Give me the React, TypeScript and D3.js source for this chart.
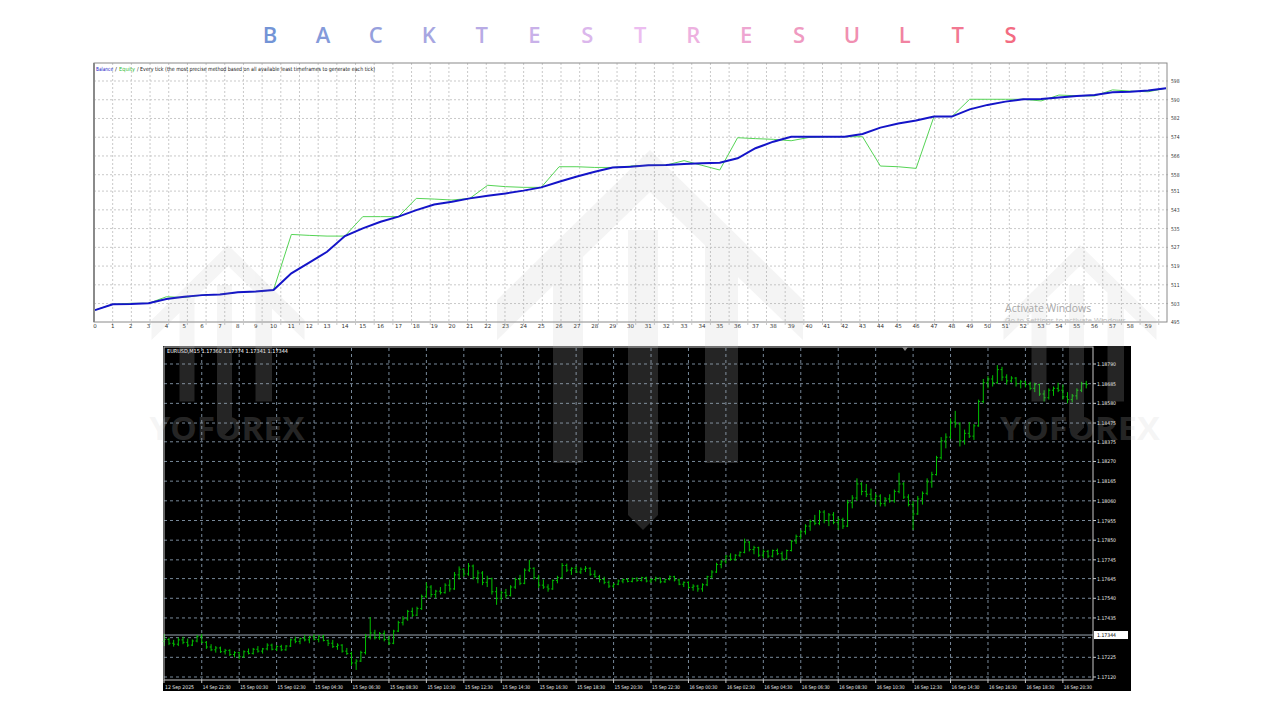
import React from 'react';
import * as d3 from 'd3';

const titleLetters = ['B', 'A', 'C', 'K', 'T', 'E', 'S', 'T', 'R', 'E', 'S', 'U', 'L', 'T', 'S'];

// Balance / equity per trade (0..60)
const balance = [500.2, 502.7, 502.8, 503.1, 504.9, 505.9, 506.6, 506.9, 507.8, 508.1, 508.8, 515.9, 520.5, 525.1, 531.8, 535.1, 537.9, 540.1, 542.9, 545.3, 546.5, 547.9, 549.0, 550.0, 551.2, 552.6, 555.0, 557.2, 559.3, 561.1, 561.4, 562.0, 562.1, 562.6, 562.9, 563.1, 565.0, 569.3, 572.1, 574.2, 574.2, 574.2, 574.2, 575.4, 578.1, 579.9, 581.1, 582.8, 582.8, 585.9, 587.8, 589.2, 590.2, 590.3, 591.0, 591.6, 592.0, 593.2, 593.4, 593.9, 594.9];
const equity = [500.2, 502.7, 503.1, 503.1, 505.9, 505.6, 506.6, 506.9, 507.8, 508.1, 508.8, 532.5, 532.1, 531.8, 531.8, 540.1, 540.1, 540.1, 547.9, 547.6, 547.2, 547.9, 553.5, 552.9, 552.6, 552.6, 561.4, 561.4, 561.1, 561.1, 561.7, 562.0, 562.1, 564.0, 562.0, 560.0, 573.8, 573.4, 573.1, 572.5, 573.9, 574.2, 574.2, 574.2, 561.7, 561.4, 560.7, 582.8, 582.8, 590.2, 590.2, 590.2, 590.2, 589.5, 592.0, 591.7, 591.6, 594.2, 593.7, 593.4, 594.9];
const balanceTicks = [495, 503, 511, 519, 527, 535, 543, 551, 558, 566, 574, 582, 590, 598];
const tradeTickCount = 60;

// EURUSD M15 bars: [open, high, low, close] in 0.00001 above 1.17000
const eurusdBars: number[][] = [
  [310, 350, 285, 320], [320, 330, 290, 300], [300, 318, 282, 295], [295, 330, 285, 318], [318, 335, 295, 305],
  [305, 325, 280, 290], [290, 320, 285, 312], [312, 345, 305, 335], [335, 350, 300, 305], [305, 312, 270, 280],
  [280, 295, 258, 265], [265, 285, 250, 275], [275, 282, 248, 255], [255, 270, 240, 262], [262, 268, 232, 240],
  [240, 258, 225, 250], [250, 255, 215, 228], [228, 262, 222, 255], [255, 272, 240, 246], [246, 275, 240, 268],
  [268, 285, 250, 258], [258, 275, 245, 270], [270, 300, 262, 290], [290, 298, 262, 268], [268, 290, 258, 282],
  [282, 292, 258, 265], [265, 290, 260, 285], [285, 325, 280, 318], [318, 335, 300, 310], [310, 330, 295, 325],
  [325, 345, 310, 318], [318, 340, 300, 335], [335, 348, 315, 320], [320, 342, 305, 338], [338, 345, 310, 315],
  [315, 320, 285, 300], [300, 318, 275, 282], [282, 300, 265, 290], [290, 295, 250, 258], [258, 275, 238, 245],
  [245, 255, 180, 195], [195, 215, 158, 205], [205, 260, 200, 250], [250, 350, 240, 335], [335, 440, 320, 355],
  [355, 372, 320, 330], [330, 360, 318, 352], [352, 368, 310, 320], [320, 340, 290, 300], [300, 372, 295, 365],
  [365, 420, 360, 410], [410, 445, 395, 430], [430, 478, 420, 470], [470, 490, 440, 450], [450, 495, 445, 485],
  [485, 560, 478, 550], [550, 625, 540, 600], [600, 610, 545, 560], [560, 585, 540, 578], [578, 600, 560, 570],
  [570, 620, 565, 610], [610, 640, 575, 590], [590, 680, 585, 665], [665, 710, 640, 695], [695, 700, 655, 670],
  [670, 728, 660, 712], [712, 720, 640, 650], [650, 690, 620, 675], [675, 685, 610, 625], [625, 660, 600, 645],
  [645, 650, 560, 575], [575, 600, 505, 540], [540, 580, 530, 570], [570, 590, 540, 555], [555, 610, 550, 600],
  [600, 650, 590, 640], [640, 665, 610, 620], [620, 700, 615, 690], [690, 745, 680, 700], [700, 705, 640, 650],
  [650, 665, 595, 610], [610, 640, 590, 600], [600, 615, 575, 590], [590, 640, 585, 635], [635, 660, 620, 650],
  [650, 728, 645, 715], [715, 725, 680, 690], [690, 705, 665, 700], [700, 712, 675, 680], [680, 705, 670, 695],
  [695, 712, 680, 700], [700, 705, 660, 668], [668, 690, 650, 655], [655, 665, 625, 640], [640, 655, 615, 625],
  [625, 635, 595, 605], [605, 620, 595, 615], [615, 640, 610, 632], [632, 645, 620, 640], [640, 648, 625, 630],
  [630, 650, 625, 645], [645, 652, 628, 635], [635, 655, 630, 650], [650, 655, 625, 632], [632, 648, 620, 640],
  [640, 655, 630, 648], [648, 650, 620, 628], [628, 645, 622, 640], [640, 662, 635, 655], [655, 660, 630, 638],
  [638, 645, 610, 615], [615, 630, 600, 625], [625, 630, 590, 598], [598, 615, 580, 605], [605, 612, 575, 590],
  [590, 620, 575, 612], [612, 660, 605, 655], [655, 690, 645, 680], [680, 730, 675, 720], [720, 745, 700, 735],
  [735, 770, 725, 765], [765, 780, 740, 748], [748, 775, 740, 770], [770, 790, 760, 785], [785, 858, 780, 840],
  [840, 845, 790, 800], [800, 820, 775, 810], [810, 815, 760, 770], [770, 800, 755, 790], [790, 798, 755, 765],
  [765, 800, 758, 795], [795, 805, 770, 778], [778, 790, 740, 750], [750, 800, 745, 795], [795, 850, 790, 845],
  [845, 880, 830, 870], [870, 905, 855, 895], [895, 935, 880, 925], [925, 960, 900, 950], [950, 985, 930, 940],
  [940, 1011, 930, 1000], [1000, 1010, 940, 955], [955, 995, 925, 985], [985, 1000, 935, 945], [945, 975, 905, 960],
  [960, 970, 910, 925], [925, 1065, 920, 1050], [1050, 1090, 1020, 1075], [1075, 1180, 1060, 1150], [1150, 1160, 1090, 1110],
  [1110, 1150, 1080, 1095], [1095, 1125, 1060, 1070], [1070, 1100, 1040, 1085], [1085, 1095, 1030, 1045], [1045, 1080, 1030, 1070],
  [1070, 1095, 1050, 1060], [1060, 1120, 1050, 1110], [1110, 1210, 1100, 1150], [1150, 1160, 1070, 1080], [1080, 1095, 1030, 1040],
  [1040, 1060, 905, 990], [990, 1085, 985, 1070], [1070, 1110, 1040, 1100], [1100, 1180, 1090, 1160], [1160, 1215, 1130, 1200],
  [1200, 1300, 1195, 1290], [1290, 1400, 1280, 1380], [1380, 1420, 1340, 1400], [1400, 1500, 1390, 1480], [1480, 1540, 1450, 1470],
  [1470, 1480, 1350, 1380], [1380, 1440, 1360, 1420], [1420, 1480, 1395, 1405], [1405, 1470, 1385, 1460], [1460, 1600, 1455, 1590],
  [1590, 1710, 1580, 1690], [1690, 1725, 1660, 1710], [1710, 1730, 1670, 1690], [1690, 1784, 1685, 1760], [1760, 1775, 1700, 1720],
  [1720, 1735, 1680, 1700], [1700, 1725, 1690, 1715], [1715, 1720, 1670, 1685], [1685, 1705, 1660, 1695], [1695, 1700, 1665, 1680],
  [1680, 1695, 1650, 1660], [1660, 1690, 1640, 1680], [1680, 1685, 1620, 1630], [1630, 1650, 1590, 1610], [1610, 1660, 1600, 1650],
  [1650, 1670, 1620, 1660], [1660, 1690, 1640, 1650], [1650, 1680, 1600, 1615], [1615, 1640, 1580, 1600], [1600, 1630, 1585, 1620],
  [1620, 1660, 1600, 1650], [1650, 1695, 1640, 1685], [1685, 1700, 1660, 1680],
];
const priceTicks = [1.1712, 1.17225, 1.1733, 1.17435, 1.1754, 1.17645, 1.17745, 1.1785, 1.17955, 1.1806, 1.18165, 1.1827, 1.18375, 1.18475, 1.1858, 1.18685, 1.1879];
const bidPrice = 1.17344;
const timeLabels = ['12 Sep 2025', '14 Sep 22:30', '15 Sep 00:30', '15 Sep 02:30', '15 Sep 04:30', '15 Sep 06:30', '15 Sep 08:30', '15 Sep 10:30', '15 Sep 12:30', '15 Sep 14:30', '15 Sep 16:30', '15 Sep 18:30', '15 Sep 20:30', '15 Sep 22:30', '16 Sep 00:30', '16 Sep 02:30', '16 Sep 04:30', '16 Sep 06:30', '16 Sep 08:30', '16 Sep 10:30', '16 Sep 12:30', '16 Sep 14:30', '16 Sep 16:30', '16 Sep 18:30', '16 Sep 20:30'];

// geometry
const xTrade = d3.scaleLinear().domain([0, 60]).range([95, 1166]);
const yBal = d3.scaleLinear().domain([495, 598]).range([322.3, 81]);
const xBar = d3.scaleLinear().domain([0, 197]).range([164.3, 164.3 + 197 * 4.68]);
const yPrice = d3.scaleLinear().domain([1.1712, 1.1879]).range([677, 364]);
const titleColor = d3.scaleLinear<string>().domain([0, 7, 14]).range(['#7394d6', '#ecbdf0', '#f36c82']);

const TL = 94, TR = 1167, TT = 63, TB = 322;
const BL = 163, BR = 1131, BT = 346, BB = 691, PR = 1093, PB = 680;

function Logo({ cx, top, s }: { cx: number; top: number; s: number }) {
  const p = (pts: number[][]) => pts.map(([x, y]) => `${cx + x * s},${top + y * s}`).join(' ');
  return (
    <g>
      <polygon points={p([[-153, 150], [0, 0], [153, 150], [153, 190], [0, 42], [-153, 190]])} />
      <polygon points={p([[-97, 95], [-67, 95], [-67, 313], [-97, 313]])} />
      <polygon points={p([[-22, 80], [8, 80], [8, 365], [-7, 380], [-22, 365]])} />
      <polygon points={p([[55, 95], [88, 95], [88, 313], [55, 313]])} />
    </g>
  );
}

function Watermark() {
  return (
    <g>
      <Logo cx={650} top={150} s={1} />
      <Logo cx={228} top={245} s={0.5} />
      <Logo cx={1080} top={245} s={0.5} />
      <text x={227} y={440} textAnchor="middle" fontFamily="'Open Sans', sans-serif" fontWeight={700} fontSize={32} textLength={155} lengthAdjust="spacingAndGlyphs">YOFOREX</text>
      <text x={1080} y={440} textAnchor="middle" fontFamily="'Open Sans', sans-serif" fontWeight={700} fontSize={32} textLength={160} lengthAdjust="spacingAndGlyphs">YOFOREX</text>
    </g>
  );
}

export default function App() {
  const lineGen = d3.line<number>().x((_, i) => xTrade(i)).y((d) => yBal(d));
  const vGrid = d3.range(TL + 18.68, TR - 2, 18.68);
  const p = (v: number) => 1.17 + v / 100000;
  const bidY = yPrice(bidPrice);

  return (
    <svg width={1280} height={720} style={{ position: 'absolute', left: 0, top: 0 }} fontFamily="'DejaVu Sans', sans-serif">
      <defs>
        <clipPath id="clipWhite">
          <path clipRule="evenodd" d={`M0,0H1280V720H0Z M${BL},${BT}V${BB}H${BR}V${BT}Z`} />
        </clipPath>
        <clipPath id="clipBlack">
          <rect x={BL} y={BT} width={BR - BL} height={BB - BT} />
        </clipPath>
      </defs>
      <rect width={1280} height={720} fill="#fff" />
      {/* Title */}
      {titleLetters.map((ch, i) => (
        <text key={i} x={270 + i * 52.9} y={43} textAnchor="middle" fontFamily="'Open Sans', sans-serif" fontWeight={600} fontSize={22} fill={titleColor(i)}>
          {ch}
        </text>
      ))}

      {/* Top chart */}
      {balanceTicks.slice(1).map((t) => (
        <line key={t} x1={TL} x2={TR + 3} y1={yBal(t)} y2={yBal(t)} stroke="#c9c9c9" strokeDasharray="2 2" />
      ))}
      {vGrid.map((x, i) => (
        <line key={i} x1={x} x2={x} y1={TT} y2={TB + 3} stroke="#c9c9c9" strokeDasharray="2 2" />
      ))}
      <path d={lineGen(equity) || ''} fill="none" stroke="#55d455" strokeWidth={1} />
      <path d={lineGen(balance) || ''} fill="none" stroke="#1414c8" strokeWidth={2} />
      <rect x={TL} y={TT} width={TR - TL} height={TB - TT} fill="none" stroke="#8a8a8a" strokeWidth={1} />
      <line x1={TL} x2={TL} y1={TT} y2={TB} stroke="#8a8a8a" strokeWidth={2} />
      <text x={96} y={71} fontSize={5.6} textLength={17} lengthAdjust="spacingAndGlyphs" fill="#2020c8">Balance</text>
      <text x={115} y={71} fontSize={5.6} fill="#222">/</text>
      <text x={119} y={71} fontSize={5.6} textLength={16} lengthAdjust="spacingAndGlyphs" fill="#33bb33">Equity</text>
      <text x={137} y={71} fontSize={5.6} textLength={238} lengthAdjust="spacingAndGlyphs" fill="#222">/ Every tick (the most precise method based on all available least timeframes to generate each tick)</text>
      {balanceTicks.map((t) => (
        <text key={t} x={1171} y={yBal(t) + 2} fontSize={5.5} textLength={8.5} lengthAdjust="spacingAndGlyphs" fill="#333">{t}</text>
      ))}
      {d3.range(tradeTickCount).map((i) => (
        <text key={i} x={xTrade(i)} y={328} fontSize={5.5} fill="#333" textAnchor="middle">{i}</text>
      ))}

      {/* Bottom chart */}
      <rect x={BL} y={BT} width={BR - BL} height={BB - BT} fill="#000" />
      {priceTicks.map((t) => (
        <line key={t} x1={BL + 1} x2={PR} y1={yPrice(t)} y2={yPrice(t)} stroke="#778899" strokeDasharray="3 3" />
      ))}
      {timeLabels.slice(1).map((_, k) => (
        <line key={k} x1={xBar(8 * (k + 1))} x2={xBar(8 * (k + 1))} y1={BT + 2} y2={PB} stroke="#778899" strokeDasharray="3 3" />
      ))}
      <line x1={BL + 1} x2={PR} y1={bidY} y2={bidY} stroke="#9aa6b2" strokeWidth={1} />
      {eurusdBars.map(([o, h, l, c], i) => {
        const x = xBar(i);
        return (
          <g key={i} stroke="#00c000" strokeWidth={1}>
            <line x1={x} x2={x} y1={yPrice(p(h))} y2={yPrice(p(l))} />
            <line x1={x - 1.5} x2={x} y1={yPrice(p(o))} y2={yPrice(p(o))} />
            <line x1={x} x2={x + 1.5} y1={yPrice(p(c))} y2={yPrice(p(c))} />
          </g>
        );
      })}
      <rect x={BL + 1} y={BT + 1} width={PR - BL - 1} height={PB - BT - 1} fill="none" stroke="#c8c8c8" strokeWidth={1} />
      <polygon points="902,347 908,347 905,351" fill="#888" />
      <text x={167} y={353} fontSize={5.4} textLength={121} lengthAdjust="spacingAndGlyphs" fill="#fff">EURUSD,M15  1.17360 1.17374 1.17341 1.17344</text>
      {priceTicks.filter((t) => Math.abs(t - 1.1733) > 1e-6).map((t) => (
        <g key={t}>
          <line x1={PR} x2={PR + 3} y1={yPrice(t)} y2={yPrice(t)} stroke="#c8c8c8" />
          <text x={1097} y={yPrice(t) + 2} fontSize={5.2} textLength={19} lengthAdjust="spacingAndGlyphs" fill="#e8e8e8">{t.toFixed(5)}</text>
        </g>
      ))}
      <rect x={PR + 1} y={bidY - 4} width={34} height={8} fill="#fff" />
      <text x={1097} y={bidY + 2} fontSize={5.2} textLength={19} lengthAdjust="spacingAndGlyphs" fill="#000">{bidPrice.toFixed(5)}</text>
      {timeLabels.map((lab, k) => {
        const x = k === 0 ? BL + 1 : xBar(8 * k);
        return (
          <g key={k}>
            <line x1={x} x2={x} y1={PB} y2={PB + 3} stroke="#c8c8c8" />
            <text x={x + 1} y={689} fontSize={5.2} textLength={k === 0 ? 29 : 28} lengthAdjust="spacingAndGlyphs" fill="#e8e8e8">{lab}</text>
          </g>
        );
      })}

      {/* Watermark */}
      <g fill="#999" opacity={0.1} clipPath="url(#clipWhite)">
        <Watermark />
      </g>
      <g fill="#aaa" opacity={0.22} clipPath="url(#clipBlack)">
        <Watermark />
      </g>
      <text x={1005} y={312} fontSize={10.5} fontFamily="'Open Sans', sans-serif" fill="#a8a8a8">Activate Windows</text>
      <text x={1005} y={323} fontSize={7.5} fontFamily="'Open Sans', sans-serif" fill="#bdbdbd">Go to Settings to activate Windows.</text>
    </svg>
  );
}
